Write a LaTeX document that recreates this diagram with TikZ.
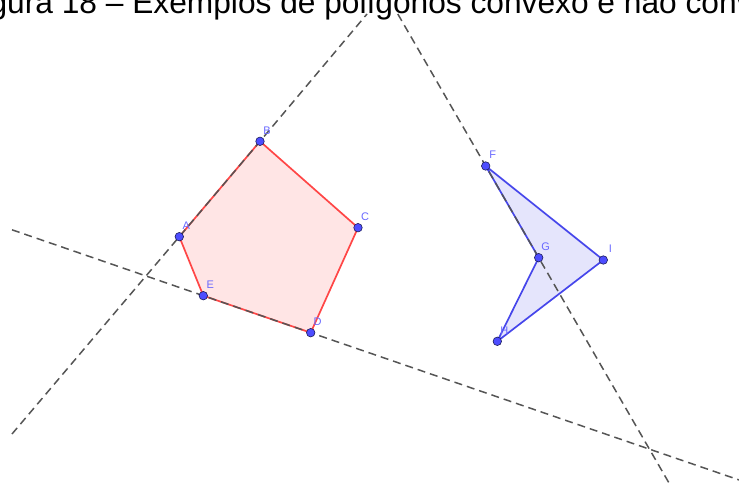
\documentclass[tikz,border=0pt]{standalone}
\usepackage{fontspec}
\setmainfont{Liberation Sans}
\usetikzlibrary{calc}
\definecolor{ptblue}{RGB}{77,77,255}
\definecolor{ptedge}{RGB}{30,30,90}
\definecolor{lblblue}{RGB}{105,105,255}
\definecolor{polyred}{RGB}{255,70,70}
\definecolor{redfill}{RGB}{255,229,229}
\definecolor{polyblue}{RGB}{70,70,235}
\definecolor{bluefill}{RGB}{229,229,252}
\definecolor{dashgray}{RGB}{85,85,85}
\tikzset{
  auxline/.style={draw=dashgray, line width=1.5pt, dash pattern=on 8pt off 5pt},
  redpoly/.style={draw=polyred, line width=1.7pt, line join=round},
  bluepoly/.style={draw=polyblue, line width=1.7pt, line join=round},
  ptdot/.style={circle, fill=ptblue, draw=ptedge, line width=0.6pt, inner sep=0pt, minimum size=8.5pt},
  ptlabel/.style={text=lblblue, font=\fontsize{11}{11}\selectfont, inner sep=0pt},
  title/.style={font=\fontsize{31.7}{32}\selectfont, inner sep=0pt, anchor=base west}
}
\begin{document}
\begin{tikzpicture}[x=1pt,y=-1pt]
\useasboundingbox (0,0) rectangle (739,486);
\clip (0,0) rectangle (739,486);
% vertices
\coordinate (A) at (179.3,236.7);
\coordinate (B) at (260,141.3);
\coordinate (C) at (358,227.7);
\coordinate (D) at (310.7,332.7);
\coordinate (E) at (203.3,295.7);
\coordinate (F) at (485.7,166);
\coordinate (G) at (538.7,257.7);
\coordinate (H) at (497.3,341.3);
\coordinate (I) at (603.3,260);
% line ends
\coordinate (ab1) at (12,434);
\coordinate (ab2) at (367,14);
\coordinate (ed1) at (12,229.8);
\coordinate (ed2) at (745,482);
\coordinate (fg1) at (397.8,14);
\coordinate (fg2) at (680,502);
% title
\node[title] (ttl) at (-37,14) {Figura 18 – Exemplos de polígonos convexo e não convexo};
% polygons
\fill[redfill] (A) -- (B) -- (C) -- (D) -- (E) -- cycle;
\fill[bluefill] (F) -- (G) -- (H) -- (I) -- cycle;
\draw[redpoly] (A) -- (B) -- (C) -- (D) -- (E) -- cycle;
\draw[bluepoly] (F) -- (G) -- (H) -- (I) -- cycle;
% auxiliary lines
\draw[auxline] (ab1) -- (A) -- (B) -- (ab2);
\draw[auxline] (ed1) -- (E) -- (D) -- (ed2);
\draw[auxline] (fg1) -- (F) -- (G) -- (fg2);
% points
\foreach \p in {A,B,C,D,E,F,G,H,I}{
  \node[ptdot] (n\p) at (\p) {};
  \node[ptlabel] (l\p) at ($(\p)+(7,-11)$) {\p};
}
\end{tikzpicture}
\end{document}
